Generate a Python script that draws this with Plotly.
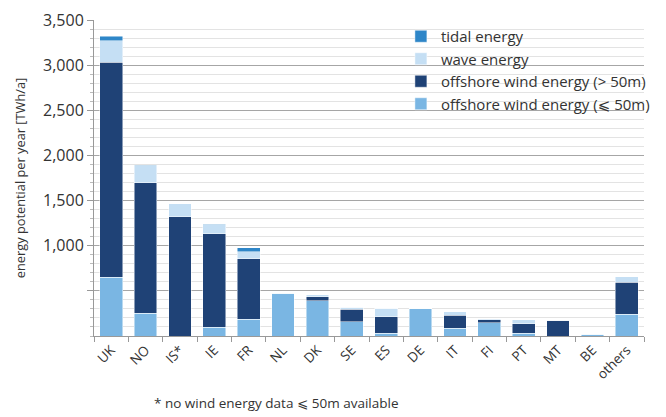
import plotly.graph_objects as go

categories = ["UK", "NO", "IS*", "IE", "FR", "NL", "DK", "SE", "ES", "DE", "IT", "FI", "PT", "MT", "BE", "others"]
wind_shallow = [650, 251, 0, 96, 188, 473, 391, 159, 33, 307, 85, 147, 30, 0, 22, 240]
wind_deep = [2384, 1447, 1321, 1034, 665, 0, 44, 140, 181, 0, 147, 34, 103, 174, 0, 354]
wave = [236, 185, 144, 103, 81, 5, 20, 19, 93, 3, 34, 9, 48, 3, 4, 63]
tidal = [52, 7, 0, 7, 44, 0, 0, 0, 0, 0, 0, 0, 0, 0, 0, 0]

series_names = ["offshore wind energy (⩽ 50m)", "offshore wind energy (> 50m)", "wave energy", "tidal energy"]
series_values = [wind_shallow, wind_deep, wave, tidal]
series_colors = ["#7AB6E3", "#1F4276", "#C5DFF4", "#2E86C8"]

y_tickvals = [500, 1000, 1500, 2000, 2500, 3000, 3500]
y_ticktext = ["", "1,000", "1,500", "2,000", "2,500", "3,000", "3,500"]

fig = go.Figure()
for name, vals, col in zip(series_names, series_values, series_colors):
    fig.add_trace(go.Bar(
        x=categories, y=vals, name=name,
        marker=dict(color=col, line=dict(color="rgba(255,255,255,0.6)", width=0.8)),
    ))

font_family = "Open Sans, DejaVu Sans, sans-serif"
fig.update_layout(
    width=658, height=409,
    barmode="stack", bargap=0.34,
    plot_bgcolor="white", paper_bgcolor="white",
    margin=dict(l=86, r=11, t=12, b=81),
    font=dict(family=font_family, size=13, color="#333333"),
    showlegend=True,
    legend=dict(
        x=0.558, y=1.0, xanchor="left", yanchor="top",
        traceorder="reversed", bgcolor="rgba(0,0,0,0)",
        font=dict(size=15, color="#333333"),
        itemwidth=30, tracegroupgap=0,
    ),
    xaxis=dict(
        automargin=False,
        showline=True, linecolor="#999999", linewidth=1,
        ticks="outside", tickson="boundaries", ticklen=5, tickcolor="#999999",
        tickangle=-45, tickfont=dict(size=13.5),
        showgrid=False,
    ),
    yaxis=dict(
        automargin=False,
        range=[0, 3500],
        tickvals=y_tickvals, ticktext=y_ticktext,
        showline=True, linecolor="#999999", linewidth=1,
        ticks="outside", ticklen=6, tickcolor="#999999",
        showgrid=True, gridcolor="#A6A6A6", gridwidth=1,
        zeroline=False,
        tickfont=dict(size=16),
        minor=dict(dtick=100, showgrid=True, gridcolor="#E3E3E3", gridwidth=1,
                   ticks="outside", ticklen=3, tickcolor="#BBBBBB"),
        title=dict(text="energy potential per year [TWh/a]", font=dict(size=12.8), standoff=14),
    ),
)

fig.add_annotation(
    text="* no wind energy data ⩽ 50m available",
    xref="paper", yref="paper", x=0.33, y=-0.212, xanchor="center", yanchor="middle",
    showarrow=False, font=dict(size=13.5, color="#333333"),
)

fig.write_html("out.html")
